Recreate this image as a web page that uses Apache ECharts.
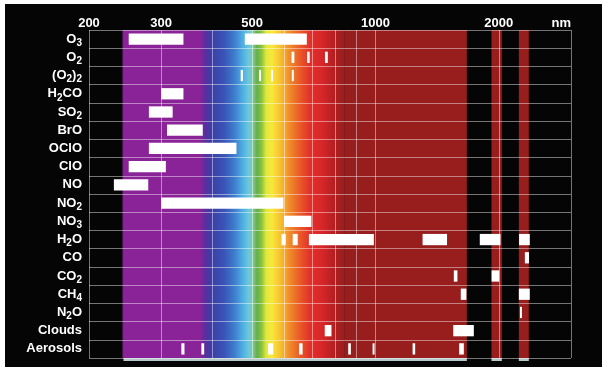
<!DOCTYPE html>
<html><head><meta charset="utf-8">
<script src="https://cdn.jsdelivr.net/npm/echarts@6/dist/echarts.min.js"></script>
<style>html,body{margin:0;padding:0;background:#fff;} #c{position:absolute;left:5px;top:4px;width:597px;height:363px;}</style>
</head><body><div id="c"></div>
<script>
// Rows (top to bottom)
const species = ['O3','O2','(O2)2','H2CO','SO2','BrO','OClO','ClO','NO','NO2','NO3','H2O','CO','CO2','CH4','N2O','Clouds','Aerosols'];
const speciesLabels = ['O{s|3}','O{s|2}','(O{s|2}){s|2}','H{s|2}CO','SO{s|2}','BrO','OClO','ClO','NO','NO{s|2}','NO{s|3}','H{s|2}O','CO','CO{s|2}','CH{s|4}','N{s|2}O','Clouds','Aerosols'];

// Absorption / sensitivity ranges in nm, [start, end]
const O3 = [[250,340],[480,680]];
const O2 = [[624,634],[681,691],[753,765]];
const O2dimer = [[469,475],[520,526],[556,562],[625,631]];
const H2CO = [[300,340]];
const SO2 = [[280,320]];
const BrO = [[310,379]];
const OClO = [[280,458]];
const ClO = [[250,308]];
const NO = [[230,279]];
const NO2 = [[300,596]];
const NO3 = [[598,698]];
const H2O = [[590,604],[628,646],[688,991],[1303,1495],[1797,2019],[2241,2380]];
const CO = [[2315,2370]];
const CO2 = [[1553,1585],[1920,2005]];
const CH4 = [[1615,1667],[2238,2380]];
const N2O = [[2252,2266]];
const Clouds = [[752,781],[1548,1738]];
const Aerosols = [[336,342],[376,382],[547,563],[651,664],[858,871],[984,991],[1232,1250],[1600,1643]];
const bandsByRow = [O3,O2,O2dimer,H2CO,SO2,BrO,OClO,ClO,NO,NO2,NO3,H2O,CO,CO2,CH4,N2O,Clouds,Aerosols];

// Axis ticks (nm)
const xMin = 200, xMax = 3000;
const xLabelTicks = [200,300,500,1000,2000];
const xGridTicks = [200,300,400,500,600,700,800,900,1000,2000,3000];

// Background spectrum
const spectrumStops = [[240,'#050505'],[243,'#8a2397'],[373,'#8a2397'],[384,'#5b2e9e'],[399,'#3b3ea6'],[429,'#3a56b8'],[454,'#3f7fcf'],[475,'#4fb0e2'],[491,'#6cc8dc'],[502,'#86c69c'],[514,'#62b04a'],[528,'#8cc43e'],[541,'#e0e83c'],[559,'#f8e838'],[585,'#f6c232'],[618,'#f08a2a'],[654,'#ea5a28'],[692,'#e2302a'],[740,'#d8262a'],[796,'#b01f20'],[842,'#991d1d']];
const darkRedBands = [[842,1671],[1919,2034],[2238,2367]];

const L = Math.log10;
const font = 'Liberation Sans, Arial, sans-serif';

const barData = [];
bandsByRow.forEach((arr, i) => arr.forEach(b => barData.push([L(b[0]), L(b[1]), i])));
const specData = [[L(spectrumStops[0][0]), L(spectrumStops[spectrumStops.length-1][0]), 0]];
darkRedBands.forEach(b => specData.push([L(b[0]), L(b[1]), 1]));

const chart = echarts.init(document.getElementById('c'));
chart.setOption({
  backgroundColor: '#050505',
  animation: false,
  grid: {left: 84, right: 31, top: 26, bottom: 9},
  xAxis: {
    type: 'value', position: 'top', min: L(xMin), max: L(xMax), z: 3,
    name: 'nm', nameLocation: 'end', nameGap: 0,
    nameTextStyle: {color:'#fff', fontWeight:'bold', fontSize:13, fontFamily: font, align:'right', verticalAlign:'bottom', padding:[0,0,0,0]},
    axisLine: {show: false},
    axisTick: {show: false, customValues: xGridTicks.map(L)},
    axisLabel: {customValues: xLabelTicks.map(L), color:'#fff', fontWeight:'bold', fontSize:13, fontFamily: font, margin: 0,
      formatter: v => String(Math.round(Math.pow(10, v)))},
    splitLine: {show: true, lineStyle: {color: 'rgba(255,255,255,0.45)', width: 1}}
  },
  yAxis: {
    type: 'category', data: species, inverse: true, z: 3,
    axisLine: {show: false}, axisTick: {show: false},
    splitLine: {show: true, lineStyle: {color: 'rgba(255,255,255,0.45)', width: 1}},
    axisLabel: {
      margin: 7, color:'#fff', fontWeight:'bold', fontSize:13, fontFamily: font,
      formatter: (v, i) => speciesLabels[i],
      rich: {s: {fontSize: 10, fontWeight:'bold', color:'#fff', fontFamily: font, padding:[8,0,0,0]}}
    }
  },
  series: [
    {
      type: 'custom', z: 1, silent: true,
      data: specData, encode: {x: [0,1], y: 2},
      renderItem: (params, api) => {
        const cs = params.coordSys;
        const a = api.value(0), b = api.value(1);
        const x0 = api.coord([a, 0])[0], x1 = api.coord([b, 0])[0];
        let fill;
        if (api.value(2) === 0) {
          fill = new echarts.graphic.LinearGradient(0, 0, 1, 0,
            spectrumStops.map(s => ({offset: (L(s[0]) - a) / (b - a), color: s[1]})));
        } else fill = '#981d1d';
        return {type: 'group', children: [
          {type: 'rect', shape: {x: x0, y: cs.y, width: x1 - x0, height: cs.height}, style: {fill}},
          {type: 'rect', shape: {x: x0 + (api.value(2) === 0 ? 2 : 0), y: cs.y + cs.height, width: x1 - x0, height: 3}, style: {fill: '#b6c8ca'}}
        ]};
      }
    },
    {
      type: 'custom', z: 4, silent: true,
      data: barData, encode: {x: [0,1], y: 2},
      renderItem: (params, api) => {
        const p0 = api.coord([api.value(0), api.value(2)]);
        const p1 = api.coord([api.value(1), api.value(2)]);
        const h = api.size([0, 1])[1] * 0.62;
        return {type: 'rect', shape: {x: p0[0], y: p0[1] - h / 2, width: Math.max(p1[0] - p0[0], 2), height: h}, style: {fill: '#ffffff'}};
      }
    }
  ]
});
</script></body></html>
